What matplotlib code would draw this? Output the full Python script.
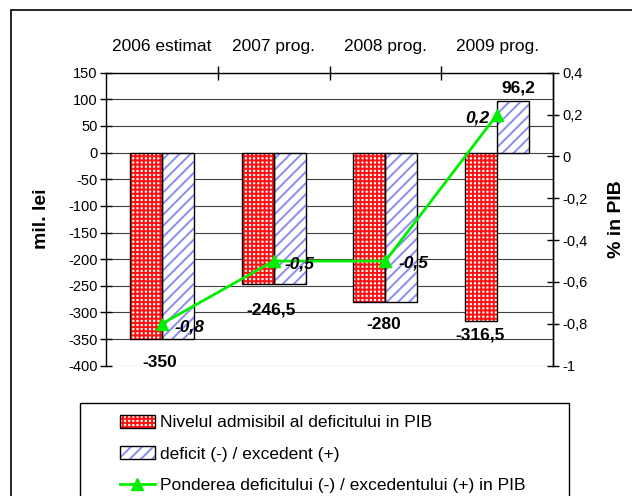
import matplotlib.pyplot as plt
import numpy as np
from matplotlib.patches import Rectangle, Patch
from matplotlib.lines import Line2D

plt.rcParams['font.family'] = ['Liberation Sans', 'DejaVu Sans']
plt.rcParams['hatch.linewidth'] = 1.4

# Budget balance, mil. lei and % of GDP
years = ['2006 estimat', '2007 prog.', '2008 prog.', '2009 prog.']
admisibil = [-350, -246.5, -280, -316.5]
deficit = [-350, -246.5, -280, 96.2]
pondere = [-0.8, -0.5, -0.5, 0.2]

left_ticks = np.arange(150, -401, -50)
right_ticks = [0.4, 0.2, 0, -0.2, -0.4, -0.6, -0.8, -1]


def fmt(v):
    return ('%g' % v).replace('.', ',')


W, H = 632, 496
x0, x1, y0, y1 = 106, 553, 72.7, 365.7
fig = plt.figure(figsize=(W / 100, H / 100), dpi=100)
ax = fig.add_axes([x0 / W, 1 - y1 / H, (x1 - x0) / W, (y1 - y0) / H])

x = np.arange(len(years))
bw = 0.286
red = '#ff1010'
blue = '#8c8cf0'

ax.bar(x - bw / 2, admisibil, bw, color='white', edgecolor=red,
       hatch='++++', linewidth=0, zorder=2)
ax.bar(x - bw / 2, admisibil, bw, fill=False, edgecolor='black', linewidth=1, zorder=3)
ax.bar(x + bw / 2, deficit, bw, color='white', edgecolor=blue,
       hatch='///', linewidth=0, zorder=2)
ax.bar(x + bw / 2, deficit, bw, fill=False, edgecolor='black', linewidth=1, zorder=3)

ax.set_xlim(-0.5, 3.5)
ax.set_ylim(-400, 150)
ax.set_yticks(left_ticks)
ax.set_yticklabels([fmt(v) for v in left_ticks], fontsize=10.5)
ax.yaxis.grid(True, color='#404040', linewidth=0.8)
ax.set_axisbelow(True)
ax.tick_params(axis='y', direction='inout', length=8, width=1, pad=2)

ax.xaxis.tick_top()
ax.set_xticks(x)
ax.set_xticklabels(years, fontsize=12.5)
ax.tick_params(axis='x', which='major', length=0, pad=13.5)
ax.set_xticks([0.5, 1.5, 2.5], minor=True)
ax.tick_params(axis='x', which='minor', direction='inout', length=10, width=1,
               top=True, bottom=False)

ax.spines['bottom'].set_visible(False)
for side in ['left', 'top', 'right']:
    ax.spines[side].set_linewidth(1)

ax.set_ylabel('mil. lei', fontsize=14, fontweight='bold')
ax.yaxis.set_label_coords((50 - x0) / (x1 - x0), 0.5)

# value labels under / above bars (offsets in pixels)
px = 0.72
bar_labels = [(0, admisibil[0], -2, -23), (1, admisibil[1], -3, -26),
              (2, admisibil[2], -2, -23), (3, admisibil[3], -17, -14),
              (3 + bw / 2, deficit[3], 5, 13)]
for xi, v, dx, dy in bar_labels:
    ax.annotate(fmt(v), (xi, v), xytext=(dx * px, dy * px), textcoords='offset points',
                ha='center', va='center', fontsize=12.5, fontweight='bold', zorder=5)

ax2 = ax.twinx()
ax2.set_ylim(-1, 0.4)
ax2.set_yticks(right_ticks)
ax2.set_yticklabels([fmt(v) for v in right_ticks], fontsize=10.5)
ax2.tick_params(axis='y', direction='inout', length=8, width=1, pad=3)
for side in ['bottom', 'left', 'top']:
    ax2.spines[side].set_visible(False)
ax2.spines['right'].set_linewidth(1)
ax2.plot(x, pondere, color='#00ee00', linewidth=2, marker='^', markersize=8, zorder=4)
ax2.set_ylabel('% in PIB', fontsize=14, fontweight='bold')
ax2.yaxis.set_label_coords((608 - x0) / (x1 - x0), 0.5)

line_offsets = [(28, -3), (26, -3), (28, -2), (-20, -3)]
for xi, v, (dx, dy) in zip(x, pondere, line_offsets):
    ax2.annotate(fmt(v), (xi, v), xytext=(dx * px, dy * px), textcoords='offset points',
                 ha='center', va='center', fontsize=12.5, fontweight='bold', style='italic',
                 zorder=5)

# outer chart frame and legend box
fig.patches.append(Rectangle((11 / W, -0.1), 2, 1.1 - 10 / H, transform=fig.transFigure,
                             fill=False, edgecolor='black', linewidth=1.2))
fig.patches.append(Rectangle((80 / W, -0.1), (569 - 80) / W, 0.1 + 1 - 403 / H,
                             transform=fig.transFigure, fill=False, edgecolor='black',
                             linewidth=1))

h_red = (Patch(facecolor='white', edgecolor=red, hatch='++++', linewidth=0),
         Patch(fill=False, edgecolor='black', linewidth=1))
h_blue = (Patch(facecolor='white', edgecolor=blue, hatch='///', linewidth=0),
          Patch(fill=False, edgecolor='black', linewidth=1))
h_line = Line2D([], [], color='#00ee00', linewidth=2, marker='^', markersize=8)
fig.legend([h_red, h_blue, h_line],
           ['Nivelul admisibil al deficitului in PIB', 'deficit (-) / excedent (+)',
            'Ponderea deficitului (-) / excedentului (+) in PIB'],
           loc='upper left', bbox_to_anchor=(120 / W, 1 - 415 / H), frameon=False,
           fontsize=12.5, handlelength=2.0, handleheight=0.75, handletextpad=0.3,
           labelspacing=0.92, borderpad=0, borderaxespad=0)

plt.savefig('out.png', dpi=100)
plt.close()
